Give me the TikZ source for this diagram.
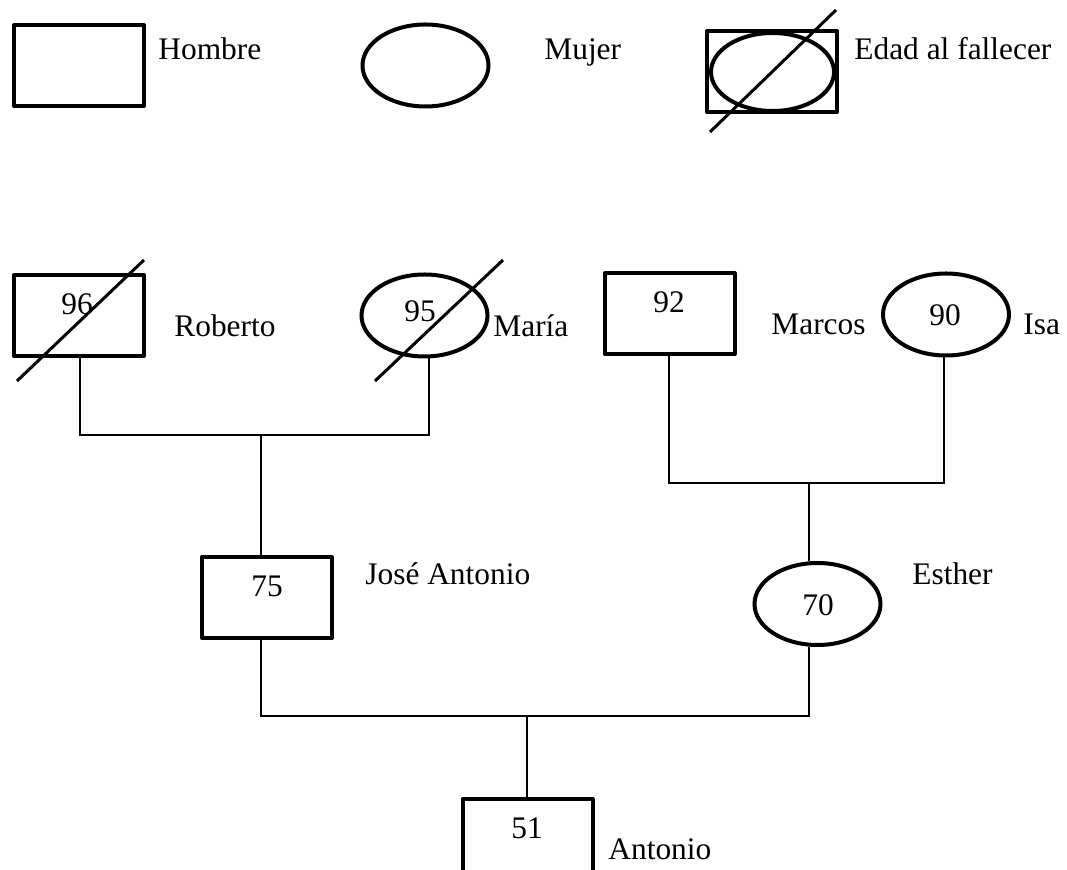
\documentclass[tikz,border=0pt]{standalone}
\usepackage{fontspec}
\setmainfont{Liberation Serif}
\usetikzlibrary{shapes.geometric}
\begin{document}
\begin{tikzpicture}[x=0.5pt,y=-0.5pt,
  every node/.style={font=\fontsize{15.7}{18}\selectfont},
  male/.style={draw,rectangle,line width=2pt,line join=round,minimum width=65pt,minimum height=40.5pt,inner sep=0pt},
  female/.style={draw,ellipse,line width=2pt,minimum width=63pt,minimum height=41pt,inner sep=0pt},
  numtext/.style={anchor=base,inner sep=0pt},
  nametext/.style={anchor=base west,inner sep=0pt},
  link/.style={line width=0.75pt},
  dead/.style={line width=1.5pt}]
\useasboundingbox (0,0) rectangle (1067,870);
\clip (0,0) rectangle (1067,870);
% legend
\node[male] (legM) at (79,65.5) {};
\node[nametext] (tHombre) at (158,60) {Hombre};
\node[female] (legF) at (425.5,65.5) {};
\node[nametext] (tMujer) at (544,60) {Mujer};
\node[male] (legD) at (772,71.5) {};
\node[female,minimum width=61.5pt,minimum height=39pt] (legDe) at (772.5,72) {};
\draw[dead] (710,132) -- (836,10);
\node[nametext] (tEdad) at (854,60) {Edad al fallecer};
% grandparents
\node[male] (roberto) at (79,315.5) {};
\node[numtext] (n96) at (77,315) {96};
\draw[dead] (17,381) -- (144,260);
\node[nametext] (tRoberto) at (174,337) {Roberto};
\node[female] (maria) at (424.5,315.5) {};
\node[numtext] (n95) at (420,322) {95};
\draw[dead] (375,381) -- (503,260);
\node[nametext] (tMaria) at (493,337) {María};
\node[male] (marcos) at (669.5,314) {};
\node[numtext] (n92) at (669,313) {92};
\node[nametext] (tMarcos) at (771,335) {Marcos};
\node[female] (isa) at (946,314.5) {};
\node[numtext] (n90) at (945,326) {90};
\node[nametext] (tIsa) at (1023,335) {Isa};
% parents
\node[male] (jose) at (267,597.5) {};
\node[numtext] (n75) at (267,597) {75};
\node[nametext] (tJose) at (365,585) {José Antonio};
\node[female] (esther) at (817.5,604) {};
\node[numtext] (n70) at (818,616) {70};
\node[nametext] (tEsther) at (912,585) {Esther};
% child
\node[male] (antonio) at (527.5,839.5) {};
\node[numtext] (n51) at (527,839) {51};
\node[nametext] (tAntonio) at (608,860) {Antonio};
% junctions
\coordinate (a1) at (80,435);
\coordinate (a2) at (429,435);
\coordinate (a0) at (261,435);
\coordinate (b1) at (669,483);
\coordinate (b2) at (944,483);
\coordinate (b0) at (809,483);
\coordinate (c1) at (261,716);
\coordinate (c2) at (809,716);
\coordinate (c0) at (527,716);
\draw[link] (roberto.south -| a1) -- (a1) -- (a2) -- (maria.south -| a2);
\draw[link] (a0) -- (jose.north -| a0);
\draw[link] (marcos.south -| b1) -- (b1) -- (b2) -- (isa.south -| b2);
\draw[link] (b0) -- (esther.north -| b0);
\draw[link] (jose.south -| c1) -- (c1) -- (c2) -- (esther.south -| c2);
\draw[link] (c0) -- (antonio.north -| c0);
\end{tikzpicture}
\end{document}
